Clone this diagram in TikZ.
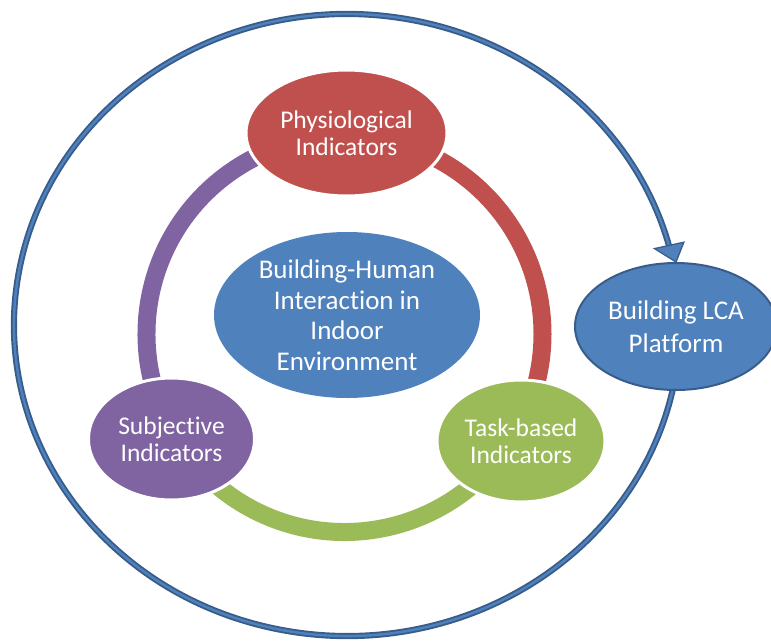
\documentclass[tikz,border=0pt]{standalone}
\usepackage{fontspec}
\setmainfont{Carlito}[Ligatures=NoCommon]
\usetikzlibrary{shapes.geometric}
\definecolor{cred}{HTML}{C0504D}
\definecolor{cgreen}{HTML}{9BBB59}
\definecolor{cpurple}{HTML}{8064A2}
\definecolor{cblue}{HTML}{4F81BD}
\definecolor{cdark}{HTML}{385D8A}
\begin{document}
\begin{tikzpicture}[x=1pt,y=-1pt,
  bubble/.style={ellipse, inner sep=0pt, text=white, align=center,
    font=\fontsize{25.5}{27.5}\selectfont, draw=white, line width=3pt},
  ringarc/.style={line width=18pt},
  bigouter/.style={line width=6.2pt, draw=cdark},
  biginner/.style={line width=2.4pt, draw=cblue}]
\useasboundingbox (0,0) rectangle (771,640);
% big cycle arrow
\coordinate (bc) at (347,325);
\draw[bigouter] ([shift={(11:333 and 311)}]bc) arc[start angle=11, end angle=345.4, x radius=333, y radius=311];
\draw[biginner] ([shift={(11:333 and 311)}]bc) arc[start angle=11, end angle=345.4, x radius=333, y radius=311];
% ring
\coordinate (rc) at (344.5,334);
\draw[ringarc, cred] ([shift={(-92:198)}]rc) arc[start angle=-92, end angle=31.2, radius=198];
\draw[ringarc, cgreen] ([shift={(31.2:198)}]rc) arc[start angle=31.2, end angle=148.2, radius=198];
\draw[ringarc, cpurple] ([shift={(148.2:198)}]rc) arc[start angle=148.2, end angle=270, radius=198];
% nodes
\node[bubble, fill=cred, minimum width=201pt, minimum height=126pt] (phys) at (346.5,133) {Physiological\\Indicators};
\node[bubble, fill=cpurple, minimum width=166pt, minimum height=122pt] (subj) at (171.5,439) {Subjective\\Indicators};
\node[bubble, fill=cgreen, minimum width=168pt, minimum height=122pt] (task) at (521,441) {Task-based\\Indicators};
\node[bubble, fill=cblue, draw=none, minimum width=266pt, minimum height=166pt,
  font=\fontsize{27}{30.5}\selectfont] (bhi) at (347,315) {Building-Human\\Interaction in\\Indoor\\Environment};
\node[bubble, fill=cblue, draw=cdark, line width=2pt, minimum width=202pt, minimum height=127pt,
  font=\fontsize{27}{33}\selectfont] (lca) at (676,326.5) {Building LCA\\Platform};
% arrowhead
\draw[fill=cblue, draw=cdark, line width=1.3pt, line join=miter] (lca.north) -- (654.5,248.6) -- (683.9,242.2) -- cycle;
\end{tikzpicture}
\end{document}
